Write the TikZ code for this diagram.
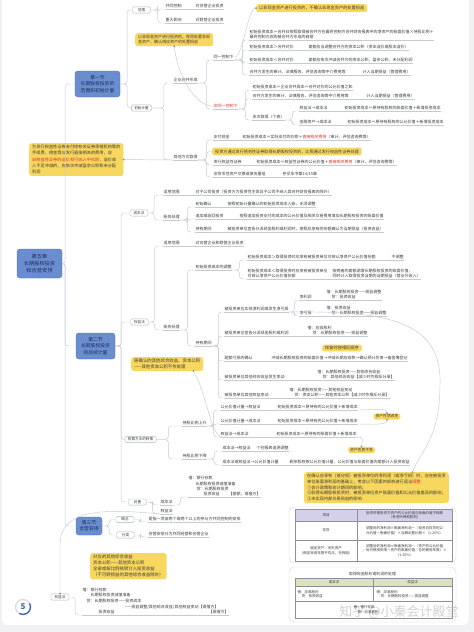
\documentclass[tikz,border=0pt]{standalone}
\usepackage{fontspec}
\setmainfont{Noto Sans CJK SC}
\definecolor{secblue}{HTML}{6A8DD0}
\definecolor{secedge}{HTML}{4E70B5}
\definecolor{navy}{HTML}{1C2E5A}
\definecolor{noteyel}{HTML}{F8D75E}
\definecolor{lncol}{HTML}{C5CAD3}
\definecolor{dotc}{HTML}{8A909C}
\definecolor{lbledge}{HTML}{AEB5C2}
\definecolor{txt}{HTML}{3A3A3A}
\definecolor{redt}{HTML}{E5302A}
\definecolor{cardline}{HTML}{D3D5DD}
\definecolor{cellline}{HTML}{8E8E9C}
\definecolor{hdpurple}{HTML}{D6CFEA}
\definecolor{hdgreen}{HTML}{D9E4BE}
\definecolor{pagebg}{HTML}{F1F1F3}
\definecolor{badgeblue}{HTML}{3F63B0}
\definecolor{badgegray}{HTML}{DADDE4}
\newcommand{\redtxt}[1]{\textcolor{redt}{#1}}
\tikzset{
  secbox/.style={draw=secedge, line width=0.4pt, fill=secblue, rounded corners=3pt,
    text=navy, align=center, font=\fontsize{4.8}{6.2}\selectfont, inner sep=1pt},
  lbl/.style={draw=lbledge, line width=0.4pt, fill=white, rounded corners=1.5pt,
    inner xsep=3pt, inner ysep=1.4pt, minimum width=18pt, text=txt,
    font=\fontsize{3.6}{4.4}\selectfont},
  ul/.style={draw=lncol, line width=0.45pt},
  tp/.style={anchor=south west, inner xsep=0.5pt, inner ysep=0.8pt, align=left, text=txt,
    font=\fontsize{4}{5.2}\selectfont,
    append after command={(\tikzlastnode.south west) edge[ul] (\tikzlastnode.south east)}},
  ln/.style={draw=lncol, line width=0.45pt, rounded corners=3pt},
  note/.style={fill=noteyel, rounded corners=2.5pt, inner xsep=3pt, inner ysep=2pt,
    align=left, text=txt, font=\fontsize{4}{5.2}\selectfont},
  cell/.style={text=txt, align=center, font=\fontsize{3.5}{4.6}\selectfont, inner sep=0.5pt},
}

\begin{document}
\begin{tikzpicture}[x=1pt, y=-1pt]

\useasboundingbox (0,0) rectangle (474,632);
\fill[pagebg] (0,0) rectangle (474,632);
\fill[white, rounded corners=6pt] (2,-8) rectangle (469,625);

% ============================================================
% 根节点与各节
% ============================================================
\node[secbox, minimum width=45pt, minimum height=29pt, font=\fontsize{5.2}{6.8}\selectfont] (root) at (39.5,263.5) {第五章\\长期股权投资\\和合营安排};
\node[secbox, minimum width=45pt, minimum height=26pt] (sec1) at (97.5,84) {第一节\\长期股权投资的\\范围和初始计量};
\node[secbox, minimum width=39pt, minimum height=26pt] (sec2) at (95.5,346) {第二节\\长期股权投资\\的后续计量};
\node[secbox, minimum width=26pt, minimum height=18pt] (sec3) at (89,526) {第三节\\合营安排};

% ============================================================
% 第一节：范围和初始计量
% ============================================================
\node[lbl] (fw) at (141.5,10) {范围};
\node[lbl] (csjl) at (141.5,108) {初始计量};

\node[tp] (gtkz) at (165,9) {共同控制};
\node[tp] (hyqy) at (195,9) {对合营企业投资};
\node[tp] (zdyx) at (165,23) {重大影响};
\node[tp] (lyqy) at (195,23) {对联营企业投资};

\node[tp] (qyhb) at (173,83) {企业合并形成};
\node[tp] (qtfs) at (173,160) {其他方式取得};
\node[tp] (ty) at (213,60) {同一控制下};
\node[tp, text=redt] (fty) at (213,109) {非同一控制下};

% 同一控制下
\node[tp] (t1) at (249,40) {初始投资成本＝合并日按照取得被合并方在最终控制方合并财务报表中的净资产的账面价值×持股比例＋\\最终控制方收购被合并方形成的商誉};
\node[tp] (t2) at (249,50) {初始投资成本＞合并对价};
\node[tp] (t2r) at (308,50) {差额应当调整合并方的资本公积（资本溢价或股本溢价）};
\node[tp] (t3) at (249,63) {初始投资成本＜合并对价};
\node[tp] (t3r) at (308,63) {差额应依次冲减合并方的资本公积、盈余公积、未分配利润};
\node[tp] (t4) at (249,75) {合并方发生的审计、法律服务、评估咨询等中介费用等};
\node[tp] (t4r) at (362,75) {计入当期损益（管理费用）};

% 非同一控制下
\node[tp] (f1) at (252,90) {初始投资成本＝企业合并成本＝合并对价的公允价值之和};
\node[tp] (f2) at (252,99) {合并方发生的审计、法律服务、评估咨询等中介费用等};
\node[tp] (f2r) at (366,99) {计入当期损益（管理费用）};
\node[tp] (dcqd) at (252,120) {多次取得（个表）};
\node[tp] (dq1) at (299,111) {权益法→成本法};
\node[tp] (dq1r) at (344,111) {初始投资成本＝原持有股权的账面价值＋新增投资成本};
\node[tp] (dq2) at (299,125) {金融资产→成本法};
\node[tp] (dq2r) at (347,125) {初始投资成本＝原持有股权的公允价值＋新增投资成本};

% 其他方式取得
\node[tp] (zfxj) at (213,140) {支付现金};
\node[tp] (zfxjr) at (242,140) {初始投资成本＝实际支付的价款＋\redtxt{直接相关费用}（审计、评估咨询费等）};
\node[note, anchor=west, font=\fontsize{4.1}{5.2}\selectfont] (n3) at (212,151.5) {投资方通过发行债务性证券取得长期股权投资的，比照通过发行权益性证券处理};
\node[tp] (fxqy) at (213,165) {发行权益性证券};
\node[tp] (fxqyr) at (256,165) {初始投资成本＝权益性证券的公允价值＋\redtxt{直接相关费用}（审计、评估咨询费等）};
\node[tp] (fhb) at (213,177) {非货币性资产交换或债务重组};
\node[tp] (fhbr) at (282,177) {参见本书第14/15章};

% 注释
\node[note, anchor=north west] (n1) at (135,33) {以非现金资产进行投资的，视同处置非现\\金资产，确认相应资产的处置损益};
\node[note, anchor=north west, font=\fontsize{4.2}{5.2}\selectfont] (n2) at (256,4) {以非现金资产进行投资的，不确认非现金资产的处置损益};
\node[note, anchor=north west, font=\fontsize{4.2}{6.2}\selectfont] (n4) at (29,143) {为发行权益性证券支付给有关证券承销机构等的\\手续费、佣金等与发行直接相关的费用，应\\\redtxt{自权益性证券的溢价发行收入中扣除}，溢价收\\入不足冲减的，应依次冲减盈余公积和未分配\\利润};

% ============================================================
% 第二节：后续计量
% ============================================================
\node[lbl] (cbf) at (139,213) {成本法};
\node[lbl] (qyf) at (139.5,322) {权益法};
\node[lbl] (hszh) at (140.5,439.5) {核算方法的转换};
\node[lbl] (cz) at (137.5,502) {处置};

% 成本法
\node[tp] (syfw1) at (163,195) {适用范围};
\node[tp] (syfw1r) at (195,195) {对子公司投资（投资方为投资性主体且子公司不纳入其合并财务报表的除外）};
\node[tp] (zwcl1) at (163,220) {账务处理};
\node[tp] (cs1) at (195,207) {初始确认};
\node[tp] (cs1r) at (227,207) {按照初始计量确认的初始投资成本入账，无须调整};
\node[tp] (zj1) at (195,219) {追加或收回投资};
\node[tp] (zj1r) at (239,219) {按照追加投资支付的成本的公允价值及相关交易费用增加长期股权投资的账面价值};
\node[tp] (cy1) at (195,232) {持有期间};
\node[tp] (cy1r) at (227,232) {被投资单位宣告分派现金股利或利润时，按照应享有的份额确认为当期损益（投资收益）};

% 权益法
\node[tp] (syfw2) at (163,246) {适用范围};
\node[tp] (syfw2r) at (195,246) {对合营企业和联营企业投资};
\node[tp] (zwcl2) at (163,330) {账务处理};
\node[tp] (tz) at (195,270) {初始投资成本的调整};
\node[tp] (tz1) at (247,260) {初始投资成本＞取得投资时应享有被投资单位可辨认净资产公允价值份额};
\node[tp] (tz1r) at (391,260) {不调整};
\node[tp] (tz2) at (247,279) {初始投资成本＜取得投资时应享有被投资单位\\可辨认净资产公允价值份额};
\node[tp] (tz2r) at (332,279) {按两者的差额调增长期股权投资的账面价值，\\同时计入取得投资当期的当期损益（营业外收入）};
\node[tp] (cyqj) at (195,346) {持有期间};
\node[tp] (jlr) at (224,312) {被投资单位实现净利润或发生净亏损};
\node[tp] (jlr1) at (299,300) {净利润};
\node[tp] (jlr1r) at (326,300) {借：长期股权投资——损益调整\\\hspace*{5pt}贷：投资收益};
\node[tp] (jlr2) at (299,316) {净亏损};
\node[tp] (jlr2r) at (326,316) {借：投资收益\\\hspace*{5pt}贷：长期股权投资——损益调整};
\node[tp] (gl) at (224,336) {被投资单位宣告分派现金股利或利润};
\node[tp] (glr) at (307,336) {借：应收股利\\\hspace*{5pt}贷：长期股权投资——损益调整};
\node[tp] (cekz) at (224,361) {超额亏损的确认};
\node[tp] (cekzr) at (271,361) {冲减长期股权投资的账面价值→冲减长期应收款→确认预计负债→备查簿登记};
\node[note, font=\fontsize{4.2}{5.2}\selectfont, inner ysep=1.5pt] (nhf) at (342,348) {恢复时按相反顺序};
\node[tp] (qtzh) at (224,380) {被投资单位其他综合收益发生变动};
\node[tp] (qtzhr) at (317,380) {借：长期股权投资——其他综合收益\\\hspace*{5pt}贷：其他综合收益【减少时作相反分录】};
\node[tp] (qtqy) at (224,398) {被投资单位其他权益变动};
\node[tp] (qtqyr) at (289,398) {借：长期股权投资——其他权益变动\\\hspace*{5pt}贷：资本公积——其他资本公积【减少时作相反分录】};

\node[note, anchor=north west, font=\fontsize{4.4}{5.6}\selectfont] (n5) at (131,357) {原确认的其他综合收益、资本公积\\——其他资本公积不作处理};

% 核算方法的转换
\node[tp] (sgsh) at (182,426) {持股比例上升};
\node[tp] (zh1) at (220,410) {公允价值计量→权益法};
\node[tp] (zh1r) at (277,410) {初始投资成本＝原持有的公允价值＋新增成本};
\node[tp] (zh2) at (220,424) {公允价值计量→成本法};
\node[tp] (zh2r) at (277,424) {初始投资成本＝原持有的公允价值＋新增成本};
\node[tp] (zh3) at (220,437) {权益法→成本法};
\node[tp] (zh3r) at (276,437) {初始投资成本＝原持有的账面价值＋新增成本};
\node[tp] (sgxj) at (182,459) {持股比例下降};
\node[tp] (zh4) at (222,451) {成本法→权益法};
\node[tp] (zh4r) at (256,451) {个别报表追溯调整};
\node[tp] (zh5) at (222,465) {成本法或权益法→公允价值计量};
\node[tp] (zh5r) at (289,465) {剩余股权按公允价值计量，公允价值与账面价值的差额计入投资收益};
\node[note, font=\fontsize{3.8}{4.6}\selectfont, inner ysep=1.3pt, inner xsep=2pt] (n6) at (387,416.5) {资产性质改变};
\node[note, font=\fontsize{3.8}{4.6}\selectfont, inner ysep=1.3pt, inner xsep=2pt] (n7) at (361.5,450) {资产性质不变};

\node[note, anchor=north west, font=\fontsize{4.2}{5.7}\selectfont] (n8) at (304,472) {在确认应享有（或分担）被投资单位的净利润（或净亏损）时，应在被投资\\单位账面净利润的基础上，考虑以下因素的影响进行适当\redtxt{调整}：\\①会计政策和会计期间的影响；\\②取得长期股权投资时，被投资单位资产账面价值和公允价值差异的影响；\\③未实现内部交易损益的影响};

% 处置
\node[tp] (czcb) at (160,505) {成本法};
\node[tp, text width=72pt] (czcbr) at (188,497) {借：银行存款\\\hspace*{7pt}长期股权投资减值准备\\\hspace*{8pt}贷：长期股权投资\\\hspace*{15pt}投资收益\hskip 0pt plus 1fill【差额，或借方】};
\node[tp] (czqy) at (160,514) {权益法};

\node[lbl] (fqy) at (60,597) {权益法};
\node[tp, text width=146pt, font=\fontsize{4}{5.6}\selectfont] (fqyblk) at (82,615) {借：银行存款\\\hspace*{8pt}长期股权投资减值准备\\\hspace*{4pt}贷：长期股权投资——投资成本\\\hspace*{42pt}——损益调整/其他综合收益/其他权益变动【或借方】\\\hspace*{16pt}投资收益\hskip 0pt plus 1fill【或借方】};
\node[note, anchor=north west, font=\fontsize{4.4}{6}\selectfont] (n9) at (90,553) {对应的其他综合收益\\资本公积——其他资本公积\\全部或按比例结转计入投资收益\\（不可转损益的其他综合收益除外）};

% ============================================================
% 第三节：合营安排
% ============================================================
\node[lbl] (gn) at (125,519.5) {概念};
\node[lbl] (fl) at (125.5,535) {分类};
\node[tp] (gnr) at (148,522) {是指一项由两个或两个以上的参与方共同控制的安排};
\node[tp] (flr) at (148,537) {合营安排分为共同经营和合营企业};

% ============================================================
% 连线
% ============================================================
\foreach \p/\c/\d in {root/sec1/3, root/sec2/3, root/sec3/3, sec1/fw/7, sec1/csjl/7,
    sec2/cbf/6, sec2/qyf/6, sec2/hszh/6, sec2/cz/6, sec3/gn/7, sec3/fl/7}
  \draw[ln] (\p.east) -- ++(\d,0) |- (\c.west);

\foreach \p/\c/\d in {fw/gtkz/7, fw/zdyx/7, csjl/qyhb/12, csjl/qtfs/12, cbf/syfw1/6, cbf/zwcl1/6,
    qyf/syfw2/6, qyf/zwcl2/6, hszh/sgsh/12, hszh/sgxj/12, cz/czcb/6, cz/czqy/6,
    gn/gnr/6, fl/flr/6, fqy/fqyblk/6}
  \draw[ln] (\p.east) -- ++(\d,0) |- (\c.south west);

\foreach \p/\c/\d in {qyhb/ty/8, qyhb/fty/8, ty/t1/8, ty/t2/8, ty/t3/8, ty/t4/8,
    fty/f1/7, fty/f2/7, fty/dcqd/7, dcqd/dq1/7, dcqd/dq2/7,
    qtfs/zfxj/8, qtfs/fxqy/8, qtfs/fhb/8,
    zwcl1/cs1/7, zwcl1/zj1/7, zwcl1/cy1/7, zwcl2/tz/7, zwcl2/cyqj/7, tz/tz1/7, tz/tz2/7,
    cyqj/jlr/6, cyqj/gl/6, cyqj/cekz/6, cyqj/qtzh/6, cyqj/qtqy/6, jlr/jlr1/5, jlr/jlr2/5,
    sgsh/zh1/6, sgsh/zh2/6, sgsh/zh3/6, sgxj/zh4/7, sgxj/zh5/7, czcb/czcbr/7}
  \draw[ln] (\p.south east) -- ++(\d,0) |- (\c.south west);
\draw[ln] (qtfs.south east) -- ++(8,0) |- (n3.west);

\foreach \a/\b in {gtkz/hyqy, zdyx/lyqy, t2/t2r, t3/t3r, t4/t4r, f2/f2r, dq1/dq1r, dq2/dq2r,
    zfxj/zfxjr, fxqy/fxqyr, fhb/fhbr, syfw1/syfw1r, cs1/cs1r, zj1/zj1r, cy1/cy1r,
    syfw2/syfw2r, tz1/tz1r, tz2/tz2r, jlr1/jlr1r, jlr2/jlr2r, gl/glr, cekz/cekzr,
    qtzh/qtzhr, qtqy/qtqyr, zh1/zh1r, zh2/zh2r, zh3/zh3r, zh4/zh4r, zh5/zh5r}
  \draw[ln] (\a.south east) -- (\b.south west);

% 关联线
\coordinate (n5d) at ([xshift=-10pt]n5.south east);
\coordinate (n8d) at ([xshift=36pt]n8.north);
\draw[ln] (n1.south) .. controls (178,78) and (196,106) .. (fty.west);
\draw[ln] (ty.east) .. controls +(9,0) and +(-9,0) .. (n2.west);
\draw[ln] (n4.east) -- (qtfs.south west);
\draw[ln] (n5d) .. controls (206,392) and (210,430) .. (zh3.south west);
\draw[ln] (jlr.south east) .. controls (380,311) and (441,318) .. (440,385)
  .. controls (439,440) and (420,452) .. (n8d);
\draw[ln] (zh1r.south east) .. controls +(14,0) and +(0,-6) .. (n6.north);
\draw[ln] (zh2r.south east) .. controls +(14,0) and +(0,6) .. (n6.south);
\draw[ln] (zh3r.south east) .. controls +(8,0) and +(0,-5) .. (n7.north);
\draw[ln] (czqy.south west) .. controls (100,508) and (60,510) .. (60,548) -- (fqy.north);
\foreach \q in {n1.south, n2.west, n4.east, n5d, n8d, n6.north, n6.south, n7.north, fqy.north}
  \fill[dotc] (\q) circle (1pt);

% ============================================================
% 表格
% ============================================================
\draw[cardline, fill=white, rounded corners=5pt] (289,507) rectangle (456,563);
\draw[cellline, line width=0.4pt, fill=hdpurple] (295,509.5) rectangle (452,521);
\draw[cellline, line width=0.4pt] (295,521) rectangle (452,540) (295,540) rectangle (452,561)
  (357,509.5) -- (357,561);
\node[cell] (tah1) at (326,515.3) {项目};
\node[cell] (tah2) at (404.5,515.3) {投资时被投资方资产的公允价值与账面价值不相等\\（考虑所得税影响）};
\node[cell] (ta11) at (326,530.5) {存货};
\node[cell] (ta12) at (404.5,530.5) {调整后的净利润＝账面净利润－（投资日存货的公\\允价值－账面价值）×当期出售比例×（1-25\%）};
\node[cell] (ta21) at (326,550.5) {固定资产／无形资产\\（假定采用年限平均法，无残值）};
\node[cell] (ta22) at (404.5,550.5) {调整后的净利润＝账面净利润－（资产的公允价值\\／尚可使用年限－资产的账面价值／总的使用年限）×\\（1-25\%）};

\draw[cardline, fill=white, rounded corners=5pt] (289,567) rectangle (456,622);
\node[cell, font=\fontsize{3.9}{4.6}\selectfont] (tbt) at (372.5,573.5) {取得现金股利或利润的处理};
\draw[cellline, line width=0.4pt, fill=hdgreen] (295,578.5) rectangle (452,586.5);
\draw[cellline, line width=0.4pt] (295,586.5) rectangle (452,601.5) (295,601.5) rectangle (452,618.5)
  (373,578.5) -- (373,601.5);

% 水印（压在表格下层）
\node[text=gray!60, opacity=0.6, font=\fontsize{13}{13}\selectfont] (wm) at (399,612) {知乎 @小秦会计殿堂};

\node[cell] (tbh1) at (334,582.5) {成本法};
\node[cell] (tbh2) at (412.5,582.5) {权益法};
\node[cell, align=left, anchor=west] (tb11) at (297,594) {借：应收股利\\\hspace*{4pt}贷：投资收益};
\node[cell, align=left, anchor=west] (tb12) at (376,594) {借：应收股利\\\hspace*{4pt}贷：长期股权投资——损益调整};
\node[cell, align=left] (tb21) at (366,609.5) {借：银行存款\\\hspace*{4pt}贷：应收股利};

% 页码
\draw[badgegray, line width=1.3pt] (23,607) circle (7.5pt);
\draw[badgeblue, line width=1.3pt] (23,607) ++(30:7.5pt) arc[start angle=30, end angle=-120, radius=7.5pt];
\node[text=badgeblue, font=\fontsize{8}{8}\selectfont\bfseries] (pg) at (23,607) {5};

\end{tikzpicture}
\end{document}
